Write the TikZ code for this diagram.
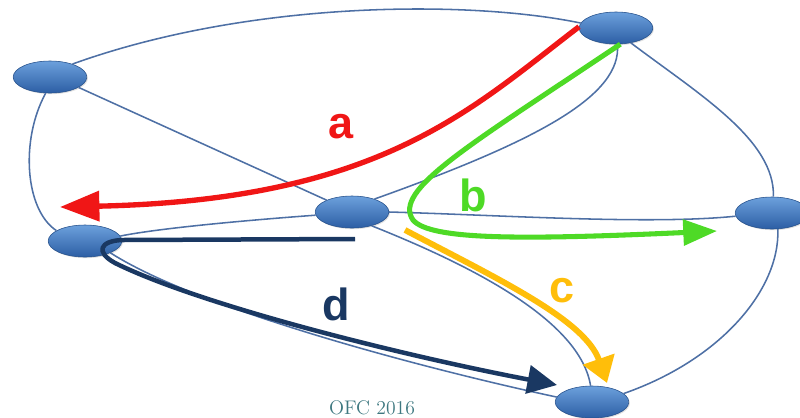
\documentclass[tikz,border=0pt]{standalone}
\usepackage{fontspec}
\newfontfamily\lblfont{Liberation Sans}
\usetikzlibrary{arrows.meta,shapes.geometric,shadows}
\definecolor{nettop}  {RGB}{108,160,220}
\definecolor{netbot}  {RGB}{44,94,164}
\definecolor{netline} {RGB}{78,112,165}
\definecolor{patha}   {RGB}{240,22,22}
\definecolor{pathb}   {RGB}{78,218,38}
\definecolor{pathc}   {RGB}{255,190,10}
\definecolor{pathd}   {RGB}{26,56,98}
\definecolor{ofcteal} {RGB}{62,120,128}

\begin{document}
\begin{tikzpicture}[
  x=0.025cm,y=-0.025cm,
  router/.style={ellipse,minimum width=1.84cm,minimum height=0.8cm,inner sep=0pt,
                 top color=nettop,bottom color=netbot,draw=netbot!85!black,line width=0.4pt,
                 drop shadow={opacity=0.25,shadow xshift=0.8pt,shadow yshift=-0.8pt}},
  lnk/.style={draw=netline,line width=1.1pt},
  lpath/.style 2 args={draw=#1,line width=#2},
  lbl/.style={font=\lblfont\bfseries\fontsize{32}{32}\selectfont},
]
\useasboundingbox (0,0) rectangle (800,417);

%% ── Nodes ────────────────────────────────────────────────────────────────────
\node[router] (Ntl) at (50,77)  {};
\node[router] (Ntr) at (616,28) {};
\node[router] (Nc)  at (352,212) {};
\node[router] (Nl)  at (85,241) {};
\node[router] (Nr)  at (772,213) {};
\node[router] (Nb)  at (592,402) {};

%% ── Links ────────────────────────────────────────────────────────────────────
\draw[lnk] (Ntl.30) .. controls (250,0) and (470,0) .. (Ntr.172);
\draw[lnk] (Ntl.-20) -- (Nc.155);
\draw[lnk] (Ntl.-105) .. controls (20,140) and (25,210) .. (Nl.160);
\draw[lnk] (Ntr.-85) .. controls (622,95) and (540,140) .. (Nc.30);
\draw[lnk] (Ntr.-45) .. controls (700,95) and (775,140) .. (Nr.85);
\draw[lnk] (Nc.0) .. controls (500,215) and (650,225) .. (Nr.185);
\draw[lnk] (Nc.185) .. controls (250,220) and (160,228) .. (Nl.8);
\draw[lnk] (Nc.-35) .. controls (470,265) and (580,320) .. (Nb.95);
\draw[lnk] (Nl.-25) .. controls (200,310) and (430,370) .. (Nb.172);
\draw[lnk] (Nr.-70) .. controls (780,290) and (720,360) .. (Nb.15);

%% ── Paths a-d ────────────────────────────────────────────────────────────────
\coordinate (aEnd)   at (60,207);
\coordinate (bEnd)   at (717,231);
\coordinate (cStart) at (405,230);
\coordinate (cEnd)   at (607,383);
\coordinate (dStart) at (355,239);
\coordinate (dEnd)   at (557,385);

\draw[lpath={patha}{3.8pt},-{Triangle[length=28pt,width=21pt]}]
  (Ntr.178) .. controls (470,110) and (380,200) .. (aEnd);
\draw[lpath={pathb}{3.6pt},-{Triangle[length=24pt,width=18pt]}]
  (Ntr.-75) .. controls (470,145) and (392,190) .. (413,220)
            .. controls (430,240) and (520,240) .. (bEnd);
\draw[lpath={pathc}{4.2pt},-{Triangle[length=18pt,width=23pt]}]
  (cStart) .. controls (500,280) and (585,320) .. (cEnd);
\draw[lpath={pathd}{3.2pt},-{Triangle[length=21pt,width=20pt]}]
  (dStart) -- (122,240) .. controls (100,241) and (95,252) .. (115,263)
           .. controls (200,305) and (400,355) .. (dEnd);

%% ── Labels ───────────────────────────────────────────────────────────────────
\node[lbl,patha] (La) at (341,127) {a};
\node[lbl,pathb] (Lb) at (473,195) {b};
\node[lbl,pathc] (Lc) at (562,291) {c};
\node[lbl,pathd] (Ld) at (336,304) {d};

\node[font=\fontsize{14}{14}\selectfont,ofcteal,anchor=base,inner sep=0pt] (Cap) at (372,414) {OFC 2016};

\end{tikzpicture}
\end{document}
